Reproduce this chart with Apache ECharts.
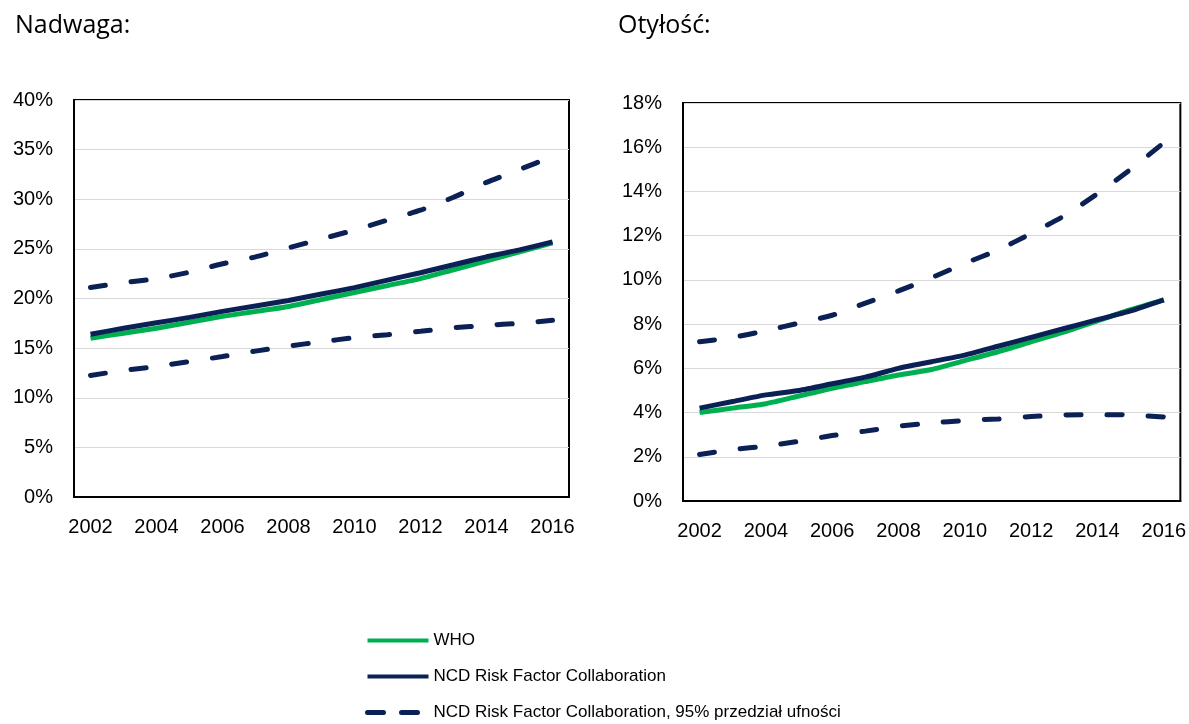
<!DOCTYPE html>
<html>
<head>
<meta charset="utf-8">
<script src="https://cdn.jsdelivr.net/npm/echarts@6/dist/echarts.min.js"></script>
<style>
html,body{margin:0;padding:0;background:#fff;}
#c{width:1189px;height:724px;}
</style>
</head>
<body>
<div id="c"></div>
<script>
const years = ['2002','2003','2004','2005','2006','2007','2008','2009','2010','2011','2012','2013','2014','2015','2016'];

// Nadwaga (overweight), %
const owWHO   = [16.0,16.5,17.0,17.6,18.2,18.7,19.2,19.9,20.6,21.3,22.0,22.9,23.8,24.7,25.6];
const owNCD   = [16.4,17.0,17.55,18.1,18.7,19.25,19.8,20.45,21.1,21.85,22.6,23.4,24.2,24.9,25.7];
const owUpper = [21.1,21.6,22.0,22.65,23.5,24.2,25.1,26.0,26.9,27.9,28.9,30.2,31.7,33.0,34.3];
const owLower = [12.25,12.75,13.15,13.65,14.15,14.7,15.2,15.65,16.05,16.35,16.7,17.05,17.3,17.5,17.8];

// Otyłość (obesity), %
const obWHO   = [4.0,4.2,4.4,4.75,5.1,5.4,5.7,5.95,6.35,6.75,7.2,7.65,8.15,8.65,9.1];
const obNCD   = [4.2,4.5,4.8,5.0,5.3,5.6,6.0,6.3,6.6,7.0,7.4,7.8,8.2,8.6,9.1];
const obUpper = [7.2,7.4,7.7,8.05,8.4,8.95,9.5,10.1,10.75,11.35,12.1,12.9,13.9,15.0,16.2];
const obLower = [2.1,2.33,2.48,2.7,2.96,3.16,3.38,3.53,3.64,3.71,3.82,3.89,3.9,3.89,3.8];

const titles = ['Nadwaga:', 'Otyłość:'];
const nameWHO = 'WHO';
const nameNCD = 'NCD Risk Factor Collaboration';
const nameCI  = 'NCD Risk Factor Collaboration, 95% przedział ufności';

const GREEN = '#00b050';
const NAVY = '#0b2155';
const labelFont = '"Liberation Sans", Arial, sans-serif';

const chart = echarts.init(document.getElementById('c'), null, {renderer:'canvas'});

function xAxis(gi){
  return {
    type:'category', gridIndex:gi, data:years, boundaryGap:true,
    axisLine:{show:true, lineStyle:{color:'#000', width:2}},
    axisTick:{show:false},
    axisLabel:{interval:1, margin:20, color:'#000', fontSize:20, fontFamily:labelFont}
  };
}
function yAxis(gi, max, interval){
  return {
    type:'value', gridIndex:gi, min:0, max:max, interval:interval,
    axisLine:{show:true, lineStyle:{color:'#000', width:2}},
    axisTick:{show:false},
    splitLine:{show:true, lineStyle:{color:'#d9d9d9', width:1}},
    axisLabel:{margin:21, color:'#000', fontSize:20, fontFamily:labelFont, formatter:'{value}%'}
  };
}
function solid(name, gi, data, color, width, z){
  return {type:'line', name:name, xAxisIndex:gi, yAxisIndex:gi, data:data,
    symbol:'none', smooth:0.2, z:z, color:color,
    lineStyle:{color:color, width:width}};
}
function dashed(gi, data){
  return {type:'line', name:nameCI, xAxisIndex:gi, yAxisIndex:gi, data:data,
    symbol:'none', smooth:0.2, z:2, color:NAVY,
    lineStyle:{color:NAVY, width:5, type:[15,26], cap:'round'}};
}

chart.setOption({
  animation:false,
  backgroundColor:'#fff',
  title:[
    {text:titles[0], left:10, top:8, textStyle:{fontFamily:'"Open Sans",sans-serif', fontSize:25, fontWeight:'normal', color:'#000'}},
    {text:titles[1], left:613, top:8, textStyle:{fontFamily:'"Open Sans",sans-serif', fontSize:25, fontWeight:'normal', color:'#000'}}
  ],
  grid:[
    {left:74, top:100, width:495, height:397, show:true, borderColor:'#000', borderWidth:2, backgroundColor:'transparent'},
    {left:683, top:103, width:498, height:398, show:true, borderColor:'#000', borderWidth:2, backgroundColor:'transparent'}
  ],
  xAxis:[xAxis(0), xAxis(1)],
  yAxis:[yAxis(0,40,5), yAxis(1,18,2)],
  legend:{
    orient:'vertical', left:365, top:632, padding:0, height:140, itemWidth:61, itemHeight:20, itemGap:19,
    itemStyle:{opacity:0},
    data:[
      {name:nameWHO, itemStyle:{opacity:0}, lineStyle:{color:GREEN, width:4}},
      {name:nameNCD, itemStyle:{opacity:0}, lineStyle:{color:NAVY, width:4}},
      {name:nameCI, itemStyle:{opacity:0}, lineStyle:{color:NAVY, width:5, type:[16,18], cap:'round'}}
    ],
    textStyle:{fontFamily:labelFont, fontSize:17, color:'#000'},
    selectedMode:false
  },
  series:[
    dashed(0, owUpper), dashed(0, owLower),
    solid(nameWHO, 0, owWHO, GREEN, 5, 3),
    solid(nameNCD, 0, owNCD, NAVY, 5, 4),
    dashed(1, obUpper), dashed(1, obLower),
    solid(nameWHO, 1, obWHO, GREEN, 5, 3),
    solid(nameNCD, 1, obNCD, NAVY, 5, 4)
  ]
});
</script>
</body>
</html>
